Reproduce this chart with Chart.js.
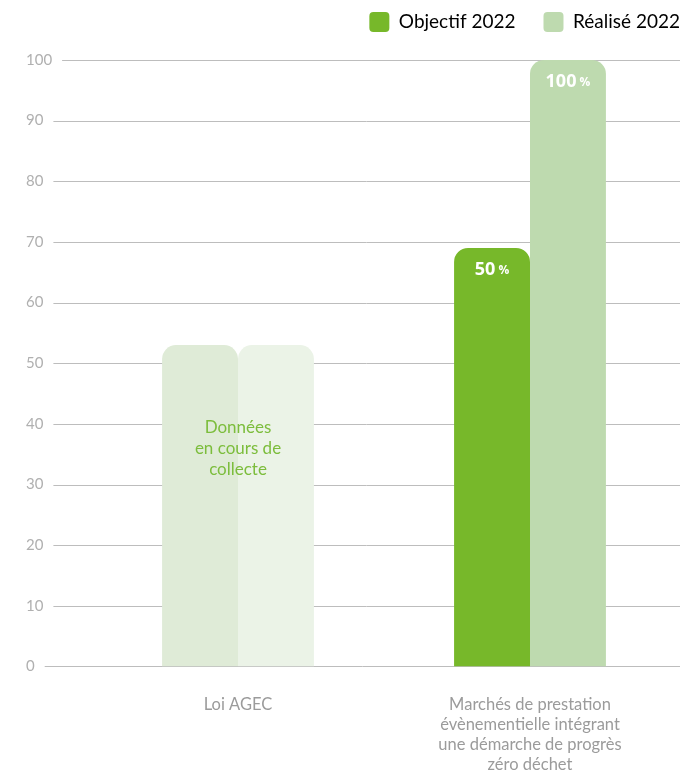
<!DOCTYPE html>
<html>
<head>
<meta charset="utf-8">
<script src="https://cdn.jsdelivr.net/npm/chart.js@4"></script>
<style>
  html, body { margin: 0; padding: 0; background: #fff; }
  #wrap { width: 684px; height: 773px; }
</style>
</head>
<body>
<div id="wrap"><canvas id="bar-chart-canvas"></canvas></div>
<script>
const categories = [
    ['Loi AGEC'],
    ['Marchés de prestation', 'évènementielle intégrant', 'une démarche de progrès', 'zéro déchet']
];
const objectif = [53, 69];
const realise = [53, 100];
const objectifLabels = [null, '50'];
const realiseLabels = [null, '100'];
const pendingText = ['Données', 'en cours de', 'collecte'];
const yTicks = [0, 10, 20, 30, 40, 50, 60, 70, 80, 90, 100];

const objectifColors = ['#dfebd7', '#77b82a'];
const realiseColors = ['#ebf3e7', '#bedaaf'];

const tickFont = { family: 'Lato', size: 15 };

// grid lines start just after each tick label, like the original
const leftGrid = {
    id: 'leftGrid',
    beforeDatasetsDraw(chart) {
        const ctx = chart.ctx;
        const y = chart.scales.y;
        ctx.save();
        ctx.font = '15px Lato';
        ctx.strokeStyle = '#bdbdbd';
        ctx.lineWidth = 1;
        yTicks.forEach(v => {
            const py = Math.round(y.getPixelForValue(v)) + 0.5;
            const w = ctx.measureText(String(v)).width;
            ctx.beginPath();
            ctx.moveTo(y.left + w + 10, py);
            ctx.lineTo(680, py);
            ctx.stroke();
        });
        ctx.restore();
    }
};

const barLabels = {
    id: 'barLabels',
    afterDatasetsDraw(chart) {
        const ctx = chart.ctx;
        ctx.save();
        ctx.fillStyle = '#ffffff';
        ctx.textBaseline = 'middle';
        [objectifLabels, realiseLabels].forEach((labels, di) => {
            const meta = chart.getDatasetMeta(di);
            labels.forEach((txt, i) => {
                if (!txt) return;
                const bar = meta.data[i];
                ctx.font = 'bold 18px "Open Sans"';
                const w1 = ctx.measureText(txt).width;
                ctx.font = 'bold 12px "Open Sans"';
                const w2 = ctx.measureText(' %').width;
                const x0 = bar.x - (w1 + w2) / 2;
                const py = bar.y + 22;
                ctx.textAlign = 'left';
                ctx.font = 'bold 18px "Open Sans"';
                ctx.fillText(txt, x0, py);
                ctx.font = 'bold 12px "Open Sans"';
                ctx.fillText(' %', x0 + w1, py + 1);
            });
        });
        // pending data note on the first category
        const cx = chart.scales.x.getPixelForValue(0);
        const cy = chart.scales.y.getPixelForValue(36);
        ctx.fillStyle = '#7cbd3c';
        ctx.font = '17px Lato';
        ctx.textAlign = 'center';
        pendingText.forEach((line, k) => {
            ctx.fillText(line, cx, cy + (k - 1) * 21);
        });
        ctx.restore();
    }
};

const legendLayout = {
    id: 'legendLayout',
    beforeInit(chart) {
        const fit = chart.legend.fit;
        chart.legend.fit = function () {
            fit.call(this);
            this.height = 76;
        };
    },
    afterLayout(chart) {
        // legend sits flush with the right edge in the original
        chart.legend.left += 32;
        chart.legend.right += 32;
    }
};

const barChartContext = document.getElementById('bar-chart-canvas').getContext('2d');

const barChart = new Chart(barChartContext, {
    type: 'bar',
    data: {
        labels: categories,
        datasets: [{
            label: 'Objectif 2022',
            data: objectif,
            backgroundColor: objectifColors,
            borderRadius: { topLeft: 14, topRight: 14 },
            borderSkipped: 'start',
            categoryPercentage: 0.52,
            barPercentage: 1
        }, {
            label: 'Réalisé 2022',
            data: realise,
            backgroundColor: realiseColors,
            borderRadius: { topLeft: 14, topRight: 14 },
            borderSkipped: 'start',
            categoryPercentage: 0.52,
            barPercentage: 1
        }]
    },
    options: {
        responsive: true,
        maintainAspectRatio: false,
        animation: false,
        layout: {
            padding: { left: 26, right: 8, top: -16, bottom: -22 }
        },
        plugins: {
            tooltip: { enabled: false },
            legend: {
                position: 'top',
                align: 'end',
                labels: {
                    boxWidth: 20,
                    boxHeight: 20,
                    useBorderRadius: true,
                    borderRadius: 4,
                    padding: 28,
                    color: '#3d4852',
                    font: { family: 'Lato', size: 19 },
                    generateLabels: () => [
                        { text: 'Objectif 2022', fillStyle: '#77b82a', strokeStyle: '#77b82a', lineWidth: 0, borderRadius: 4, datasetIndex: 0 },
                        { text: 'Réalisé 2022', fillStyle: '#bedaaf', strokeStyle: '#bedaaf', lineWidth: 0, borderRadius: 4, datasetIndex: 1 }
                    ]
                }
            }
        },
        scales: {
            x: {
                grid: { display: false },
                border: { display: false },
                ticks: {
                    color: '#9b9b9b',
                    font: { family: 'Lato', size: 16.5, lineHeight: 1.22 },
                    padding: 20,
                    maxRotation: 0,
                    autoSkip: false
                }
            },
            y: {
                min: 0,
                max: 100,
                grid: { display: false },
                border: { display: false },
                afterFit(scale) { scale.width = 66; },
                ticks: {
                    stepSize: 10,
                    color: '#b0b0b0',
                    font: tickFont,
                    crossAlign: 'far'
                }
            }
        }
    },
    plugins: [leftGrid, barLabels, legendLayout]
});
</script>
</body>
</html>
